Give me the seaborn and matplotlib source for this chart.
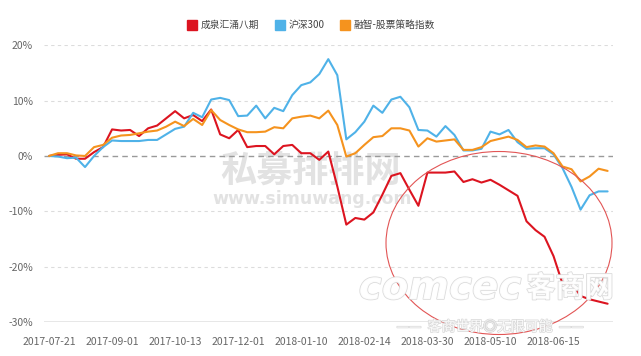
import numpy as np
import pandas as pd
import matplotlib
matplotlib.use('Agg')
import matplotlib.pyplot as plt
import matplotlib.patheffects as pe
from matplotlib.lines import Line2D
from matplotlib.patches import Ellipse
import seaborn as sns

# ================= DADOS =================
series_names = ['成泉汇涌八期', '沪深300', '融智-股票策略指数']
series_colors = ['#dc1420', '#4fb2e8', '#f5931e']
tick_labels = ['2017-07-21', '2017-09-01', '2017-10-13', '2017-12-01', '2018-01-10',
               '2018-02-14', '2018-03-30', '2018-05-10', '2018-06-15']
tick_step = 7

chengquan = [0, 0.2, 0.3, -0.5, -0.5, 0.7, 1.6, 4.8, 4.6, 4.7,
             3.6, 5.0, 5.5, 6.8, 8.1, 6.8, 7.4, 6.3, 8.4, 3.9,
             3.2, 4.7, 1.6, 1.8, 1.8, 0.3, 1.8, 2.0, 0.5, 0.5,
             -0.7, 0.8, -5.5, -12.4, -11.2, -11.5, -10.2, -7.0, -3.6, -3.1,
             -6.1, -9.0, -3.0, -3.0, -3.0, -2.8, -4.7, -4.2, -4.8, -4.3,
             -5.2, -6.2, -7.2, -11.8, -13.4, -14.6, -18.1, -23.1, -23.0, -25.3,
             -25.9, -26.3, -26.7]
hs300 = [0, -0.1, -0.4, -0.3, -2.0, 0.0, 1.6, 2.8, 2.7, 2.7,
         2.7, 2.9, 2.9, 3.9, 4.9, 5.3, 7.8, 7.0, 10.2, 10.5,
         10.1, 7.2, 7.3, 9.1, 6.8, 8.7, 8.1, 11.0, 12.8, 13.3,
         14.8, 17.5, 14.6, 3.0, 4.3, 6.2, 9.1, 7.8, 10.2, 10.7,
         8.8, 4.7, 4.6, 3.5, 5.4, 3.8, 1.0, 1.0, 1.3, 4.4,
         3.9, 4.7, 2.5, 1.3, 1.4, 1.4, 0.3, -2.2, -5.6, -9.7,
         -7.1, -6.4, -6.4]
rongzhi = [0, 0.5, 0.5, 0.1, 0.0, 1.6, 2.0, 3.3, 3.7, 3.8,
           4.1, 4.4, 4.6, 5.3, 6.2, 5.4, 6.7, 5.6, 8.3, 6.5,
           5.6, 4.8, 4.3, 4.3, 4.4, 5.2, 5.0, 6.8, 7.1, 7.3,
           6.8, 8.2, 5.6, -0.1, 0.5, 2.0, 3.4, 3.6, 5.0, 5.0,
           4.6, 1.7, 3.2, 2.6, 2.8, 3.0, 1.1, 1.1, 1.6, 2.7,
           3.1, 3.5, 2.9, 1.6, 1.9, 1.7, 0.5, -1.9, -2.4, -4.6,
           -3.7, -2.3, -2.7]

y_ticks = [-30, -20, -10, 0, 10, 20]

# monta tabela longa para o seaborn
n = len(chengquan)
df = pd.DataFrame({
    'idx': list(range(n)) * 3,
    'valor': chengquan + hs300 + rongzhi,
    'serie': [s for s in series_names for _ in range(n)],
})

# ================= GRÁFICO =================
sns.set_theme(style='white')
plt.rcParams['font.family'] = ['Noto Sans CJK SC', 'DejaVu Sans']

fig = plt.figure(figsize=(6.41, 3.56), dpi=100)
ax = fig.add_axes([44 / 641, 1 - 322 / 356, (613 - 44) / 641, (322 - 45.3) / 356])

# marca d'água (fica atrás das linhas)
fig.text(311 / 641, 1 - 172 / 356, '私募排排网', ha='center', va='center',
         fontsize=26, fontweight='bold', color='#e2e2e2', zorder=-1)
fig.text(312 / 641, 1 - 199 / 356, 'www.simuwang.com', ha='center', va='center',
         fontsize=12.5, fontweight='bold', color='#e2e2e2', family='DejaVu Sans', zorder=-1)

# grade
for v in y_ticks:
    if v == 0:
        ax.axhline(v, color='#9a9a9a', lw=1.0, ls=(0, (4, 3)), zorder=1)
    elif v == -30:
        ax.axhline(v, color='#e3e3e3', lw=1.2, zorder=1)
    else:
        ax.axhline(v, color='#dcdcdc', lw=0.8, ls=(0, (3, 3)), zorder=1)

sns.lineplot(data=df, x='idx', y='valor', hue='serie', hue_order=series_names,
             palette=series_colors, linewidth=1.5, legend=False, ax=ax, zorder=3)

ax.set_xlim(-5 / 9.01, n - 1 + 5.4 / 9.01)
ax.set_ylim(-30, 20)
ax.set_yticks(y_ticks)
ax.set_yticklabels([f'{v}%' for v in y_ticks])
ax.set_xticks(list(range(0, n, tick_step))[:len(tick_labels)])
ax.set_xticklabels(tick_labels)
ax.tick_params(axis='y', length=0, pad=8, labelsize=7.5, labelcolor='#666666')
ax.tick_params(axis='x', length=0, pad=11, labelsize=7.5, labelcolor='#666666')
ax.set_xlabel('')
ax.set_ylabel('')
for sp in ax.spines.values():
    sp.set_visible(False)
ax.patch.set_alpha(0)

# legenda no topo
handles = [Line2D([0], [0], marker='s', ls='none', markersize=7,
                  markerfacecolor=c, markeredgecolor=c) for c in series_colors]
fig.legend(handles, series_names, loc='center', bbox_to_anchor=(311 / 641, 1 - 25 / 356),
           ncol=3, frameon=False, fontsize=7, handlelength=1.0, handletextpad=0.4,
           columnspacing=1.6, labelcolor='#444444')

# círculo vermelho de destaque
fig.add_artist(Ellipse((499 / 641, 1 - 243 / 356), 226 / 641, 183 / 356,
                       transform=fig.transFigure, fill=False, edgecolor='#e25555', lw=0.8, zorder=5))

# marca d'água do site que republicou (bem clara)
stroke = [pe.withStroke(linewidth=1.1, foreground='#d6d6d6')]
fig.text(440 / 641, 1 - 288 / 356, 'comcec', ha='center', va='center', fontsize=28,
         fontstyle='italic', fontweight='bold', color='white', family='DejaVu Sans',
         path_effects=stroke, alpha=0.9, zorder=6)
fig.text(570 / 641, 1 - 288 / 356, '客商网', ha='center', va='center', fontsize=21,
         fontweight='bold', color='white', path_effects=stroke, alpha=0.9, zorder=6)
fig.text(490 / 641, 1 - 327 / 356, '——  客商世界◎无限可能  ——', ha='center', va='center',
         fontsize=10, color='white', path_effects=stroke, alpha=0.9, zorder=6)

fig.savefig('out.png', dpi=100)
